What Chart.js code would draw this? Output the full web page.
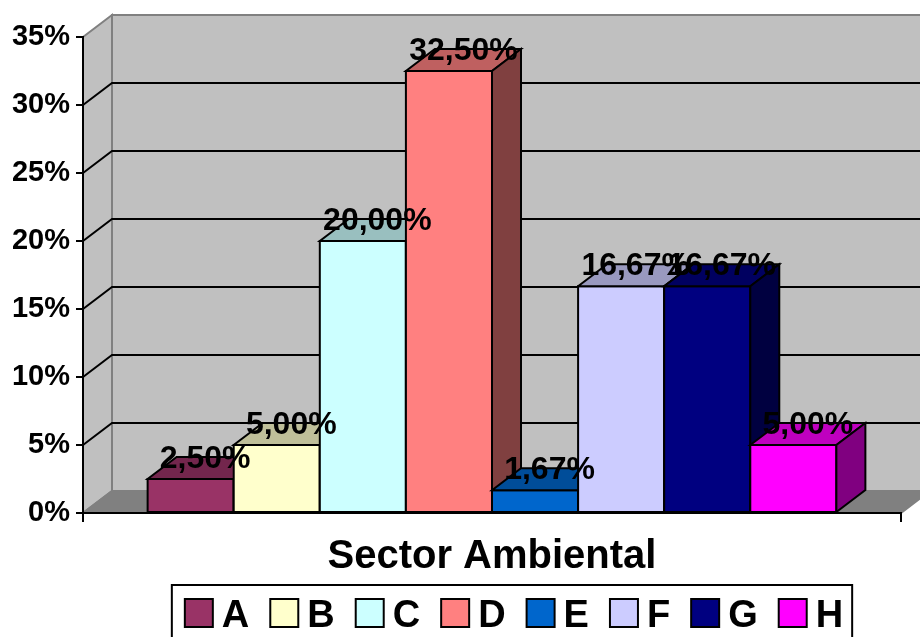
<!DOCTYPE html>
<html>
<head>
<meta charset="utf-8">
<script src="https://cdn.jsdelivr.net/npm/chart.js@4.4.1/dist/chart.umd.min.js"></script>
<style>
    html, body { margin: 0; padding: 0; background: #fff; }
    #contenedor { width: 920px; height: 637px; position: relative; }
</style>
</head>
<body>
<div id="contenedor"><canvas id="grafico"></canvas></div>
<script>
const categorias = ["Sector Ambiental"];
const series = ["A", "B", "C", "D", "E", "F", "G", "H"];
const valores = [2.5, 5, 20, 32.5, 1.67, 16.67, 16.67, 5];
const colores = ["#993366", "#FFFFCC", "#CCFFFF", "#FF8080", "#0066CC", "#CCCCFF", "#000080", "#FF00FF"];
const ticksY = [0, 5, 10, 15, 20, 25, 30, 35];

const FUENTE = '"Liberation Sans", Arial, sans-serif';
const DX = 29, DY = 22; // profundidad del efecto 3D

function oscurecer(hex, f) {
    const n = parseInt(hex.slice(1), 16);
    const r = Math.round(((n >> 16) & 255) * f);
    const g = Math.round(((n >> 8) & 255) * f);
    const b = Math.round((n & 255) * f);
    return `rgb(${r},${g},${b})`;
}

function poligono(ctx, pts, relleno, borde, ancho) {
    ctx.beginPath();
    ctx.moveTo(pts[0][0], pts[0][1]);
    for (let i = 1; i < pts.length; i++) ctx.lineTo(pts[i][0], pts[i][1]);
    ctx.closePath();
    ctx.fillStyle = relleno;
    ctx.fill();
    ctx.strokeStyle = borde;
    ctx.lineWidth = ancho;
    ctx.lineJoin = "miter";
    ctx.stroke();
}

// paredes, piso y lineas de division
const paredes = {
    id: "paredes",
    beforeDraw(chart) {
        const ctx = chart.ctx, a = chart.chartArea, y = chart.scales.y;
        const arriba = y.getPixelForValue(ticksY[ticksY.length - 1]);
        const abajo = y.getPixelForValue(0);
        const der = a.right + DX + 30;
        ctx.save();
        poligono(ctx, [[a.left, arriba], [a.left + DX, arriba - DY], [a.left + DX, abajo - DY], [a.left, abajo]], "#C0C0C0", "#808080", 2);
        poligono(ctx, [[a.left + DX, arriba - DY], [der, arriba - DY], [der, abajo - DY], [a.left + DX, abajo - DY]], "#C0C0C0", "#808080", 2);
        poligono(ctx, [[a.left, abajo], [a.right, abajo], [a.right + DX, abajo - DY], [a.left + DX, abajo - DY]], "#808080", "#808080", 2);
        ctx.strokeStyle = "#000";
        ctx.lineWidth = 2;
        ticksY.slice(1, -1).forEach(v => {
            const yf = y.getPixelForValue(v);
            ctx.beginPath();
            ctx.moveTo(a.left, yf);
            ctx.lineTo(a.left + DX, yf - DY);
            ctx.lineTo(der, yf - DY);
            ctx.stroke();
        });
        ctx.restore();
    }
};

// barras en 3D y etiquetas de valor
const barras3D = {
    id: "barras3D",
    afterDatasetsDraw(chart) {
        const ctx = chart.ctx;
        const etiquetas = [];
        ctx.save();
        chart.data.datasets.forEach((ds, i) => {
            const meta = chart.getDatasetMeta(i);
            meta.data.forEach(bar => {
                const { x, y, base, width } = bar.getProps(["x", "y", "base", "width"], true);
                const l = x - width / 2, r = x + width / 2;
                const c = colores[i];
                poligono(ctx, [[l, y], [r, y], [r, base], [l, base]], c, "#000", 2);
                poligono(ctx, [[l, y], [r, y], [r + DX, y - DY], [l + DX, y - DY]], oscurecer(c, 0.75), "#000", 2);
                poligono(ctx, [[r, y], [r + DX, y - DY], [r + DX, base - DY], [r, base]], oscurecer(c, 0.5), "#000", 2);
                etiquetas.push({ x: x + DX / 2, y: y - 11, t: valores[i].toFixed(2).replace(".", ",") + "%" });
            });
        });
        ctx.fillStyle = "#000";
        ctx.font = "bold 32px " + FUENTE;
        ctx.textAlign = "center";
        ctx.textBaseline = "alphabetic";
        etiquetas.forEach(e => ctx.fillText(e.t, e.x, e.y));
        ctx.restore();
    }
};

// leyenda con marco
const leyenda = {
    id: "leyenda",
    afterDraw(chart) {
        const ctx = chart.ctx;
        const caja = 28, sep = 9, pad = 21;
        ctx.save();
        ctx.font = "bold 38px " + FUENTE;
        const anchos = series.map(s => ctx.measureText(s).width);
        let total = anchos.reduce((s, w) => s + w + caja + sep, 0) + pad * (series.length - 1);
        const centro = 514;
        let x = centro - total / 2;
        const top = 585;
        ctx.strokeStyle = "#000";
        ctx.lineWidth = 2;
        ctx.strokeRect(x - 13, top, total + 22, 70);
        const cy = 613;
        ctx.textBaseline = "alphabetic";
        ctx.textAlign = "left";
        series.forEach((s, i) => {
            ctx.fillStyle = colores[i];
            ctx.fillRect(x, cy - caja / 2, caja, caja);
            ctx.strokeRect(x, cy - caja / 2, caja, caja);
            ctx.fillStyle = "#000";
            ctx.fillText(s, x + caja + sep, cy + 14);
            x += caja + sep + anchos[i] + pad;
        });
        ctx.restore();
    }
};

const ctx = document.getElementById("grafico").getContext("2d");
new Chart(ctx, {
    type: "bar",
    data: {
        labels: categorias,
        datasets: series.map((s, i) => ({
            label: s,
            data: [valores[i]],
            backgroundColor: colores[i],
            borderColor: "#000",
            borderWidth: 2
        }))
    },
    options: {
        responsive: true,
        maintainAspectRatio: false,
        animation: false,
        categoryPercentage: 0.842,
        barPercentage: 1.0,
        layout: { padding: { top: 37, right: 19, left: 0, bottom: 56 } },
        scales: {
            x: {
                ticks: { display: false },
                grid: { drawOnChartArea: false, drawTicks: true, tickLength: 9, color: "#000", lineWidth: 2 },
                border: { display: true, color: "#000", width: 2 },
                title: {
                    display: true,
                    text: categorias[0],
                    color: "#000",
                    padding: 0,
                    font: { family: FUENTE, size: 40, weight: "bold" }
                },
                afterFit: s => { s.height = 68; }
            },
            y: {
                min: 0,
                max: 35,
                ticks: {
                    stepSize: 5,
                    padding: 6,
                    color: "#000",
                    font: { family: FUENTE, size: 29, weight: "bold" },
                    callback: v => v + "%"
                },
                grid: { drawOnChartArea: false, drawTicks: true, tickLength: 7, color: "#000", lineWidth: 2 },
                border: { display: true, color: "#000", width: 2 },
                afterFit: s => { s.width = 83; }
            }
        },
        plugins: {
            legend: { display: false },
            tooltip: { enabled: false }
        }
    },
    plugins: [paredes, barras3D, leyenda]
});
</script>
</body>
</html>
